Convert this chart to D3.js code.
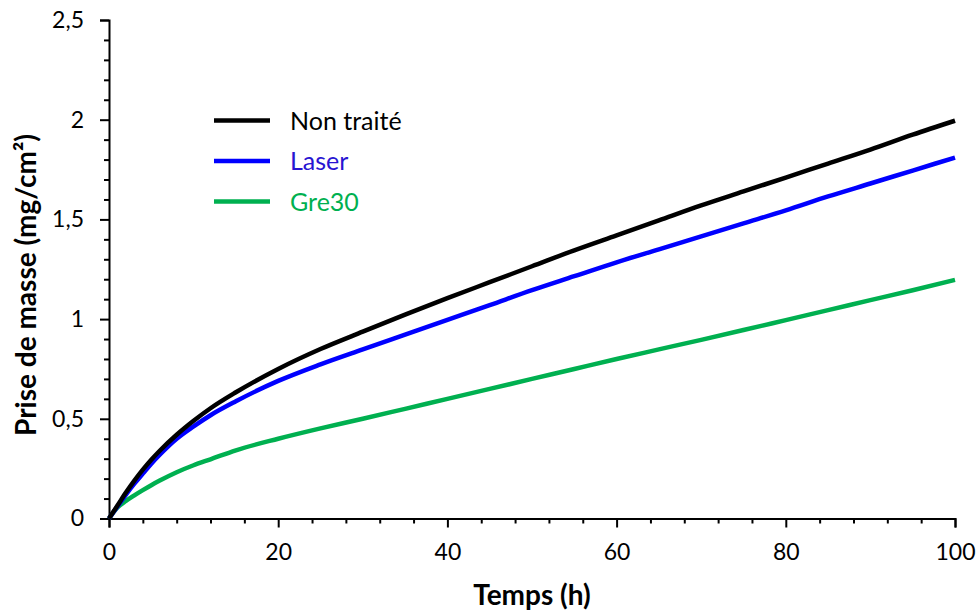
<!DOCTYPE html>
<html>
<head>
<meta charset="utf-8">
<script src="https://cdn.jsdelivr.net/npm/d3@7"></script>
<style>
  html, body { margin: 0; padding: 0; background: #fff; }
  svg { display: block; }
  text { font-family: Lato, "Open Sans", sans-serif; }
</style>
</head>
<body>
<svg id="chart" width="976" height="613"></svg>
<script>
// ---- Data ----
const times = [0, 1, 2, 3, 4, 5, 6, 8, 10, 12, 15, 20, 25, 30, 35, 40, 45, 50, 55, 60, 65, 70, 75, 80, 85, 90, 95, 100];
const nonTraite = [0, 0.065, 0.13, 0.19, 0.245, 0.295, 0.34, 0.42, 0.49, 0.553, 0.633, 0.75, 0.85, 0.937, 1.022, 1.105, 1.185, 1.265, 1.345, 1.42, 1.495, 1.57, 1.64, 1.71, 1.78, 1.85, 1.925, 1.995];
const laser     = [0, 0.06, 0.12, 0.175, 0.225, 0.275, 0.32, 0.40, 0.462, 0.518, 0.588, 0.69, 0.773, 0.848, 0.922, 0.996, 1.07, 1.145, 1.215, 1.285, 1.35, 1.415, 1.48, 1.545, 1.615, 1.68, 1.745, 1.81];
const gre30     = [0, 0.055, 0.088, 0.116, 0.142, 0.167, 0.19, 0.232, 0.267, 0.297, 0.342, 0.40, 0.452, 0.50, 0.55, 0.60, 0.65, 0.70, 0.75, 0.80, 0.848, 0.896, 0.945, 0.995, 1.045, 1.095, 1.145, 1.197];
const seriesNames = ["Non traité", "Laser", "Gre30"];
const lineColors = ["#000000", "#0000FF", "#00B050"];
const textColors = ["#000000", "#2814D2", "#00B050"];
const xTicks = [0, 20, 40, 60, 80, 100];
const yTicks = [0, 0.5, 1, 1.5, 2, 2.5];
const yTickLabels = ["0", "0,5", "1", "1,5", "2", "2,5"];
const xTitle = "Temps (h)";
const yTitle = "Prise de masse (mg/cm²)";

// ---- Layout ----
const svg = d3.select("#chart");
const x = d3.scaleLinear().domain([0, 100]).range([109, 955]);
const y = d3.scaleLinear().domain([0, 2.5]).range([518.5, 20]);

const allSeries = [nonTraite, laser, gre30];

// minor ticks
const xMinor = d3.range(0, 101, 4).filter(v => v % 20 !== 0);
const yMinor = d3.range(0, 26, 1).map(v => v / 10).filter(v => Math.round(v * 10) % 5 !== 0);

const gx = svg.append("g").attr("transform", `translate(0,${y(0)})`);
gx.call(d3.axisBottom(x).tickValues(xTicks).tickSize(9).tickPadding(16).tickFormat(d3.format("d")));
gx.append("g").call(d3.axisBottom(x).tickValues(xMinor).tickSize(5).tickFormat(""));

const gy = svg.append("g").attr("transform", `translate(${x(0)},0)`);
gy.call(d3.axisLeft(y).tickValues(yTicks).tickSize(9).tickPadding(16).tickFormat((d, i) => yTickLabels[i]));
gy.append("g").call(d3.axisLeft(y).tickValues(yMinor).tickSize(5).tickFormat(""));

svg.selectAll(".domain").attr("stroke", "#000").attr("stroke-width", 2);
svg.selectAll(".tick line").attr("stroke", "#000").attr("stroke-width", 2);
svg.selectAll(".tick text").attr("fill", "#000").style("font-size", "23px").style("font-family", "Lato, sans-serif");
svg.selectAll("g .domain").filter(function(){ return this.parentNode.parentNode !== svg.node(); }).remove();

// lines
const line = d3.line()
  .x((d, i) => x(times[i]))
  .y(d => y(d))
  .curve(d3.curveMonotoneX);

// draw order: green, blue, black on top
[2, 1, 0].forEach(k => {
  svg.append("path")
    .datum(allSeries[k])
    .attr("fill", "none")
    .attr("stroke", lineColors[k])
    .attr("stroke-width", 4.5)
    .attr("d", line);
});

// legend
const legend = svg.append("g");
seriesNames.forEach((name, i) => {
  const yy = 120.5 + i * 40.5;
  legend.append("line")
    .attr("x1", 214).attr("x2", 270)
    .attr("y1", yy).attr("y2", yy)
    .attr("stroke", lineColors[i]).attr("stroke-width", 4.5);
  legend.append("text")
    .attr("x", 290).attr("y", yy)
    .attr("dy", "0.36em")
    .attr("fill", textColors[i])
    .style("font-size", "25px")
    .text(name);
});

// axis titles
svg.append("text")
  .attr("x", 532).attr("y", 605)
  .attr("text-anchor", "middle")
  .style("font-size", "28px").style("font-weight", "bold")
  .text(xTitle);

svg.append("text")
  .attr("transform", `translate(36,285) rotate(-90)`)
  .attr("text-anchor", "middle")
  .style("font-size", "28px").style("font-weight", "bold")
  .text(yTitle);
</script>
</body>
</html>
